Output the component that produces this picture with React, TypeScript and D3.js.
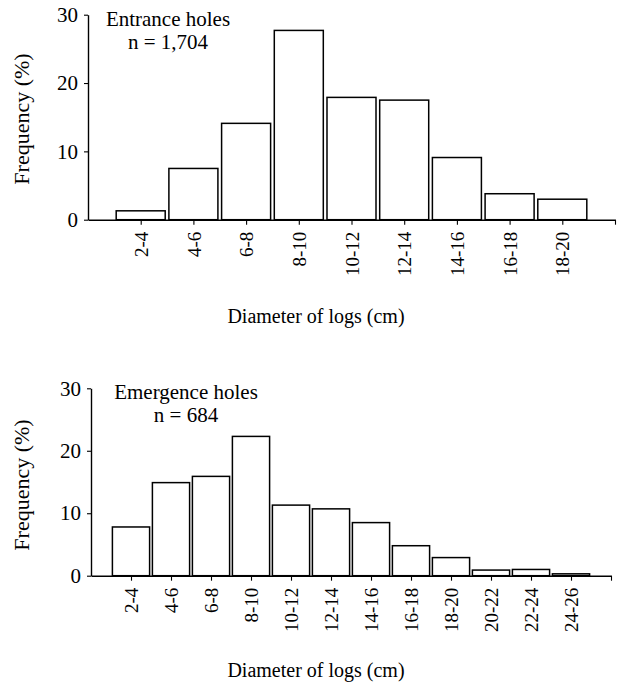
import * as d3 from "d3";
import { useRef, useEffect } from "react";

const entranceClasses = ["2-4", "4-6", "6-8", "8-10", "10-12", "12-14", "14-16", "16-18", "18-20"];
const entranceValues = [1.3, 7.5, 14.1, 27.7, 17.9, 17.5, 9.1, 3.8, 3.0];

const emergenceClasses = ["2-4", "4-6", "6-8", "8-10", "10-12", "12-14", "14-16", "16-18", "18-20", "20-22", "22-24", "24-26"];
const emergenceValues = [7.8, 14.9, 15.9, 22.3, 11.3, 10.7, 8.5, 4.8, 2.9, 0.9, 1.0, 0.3];

const yTicks = [0, 10, 20, 30];

const font = "'Liberation Serif', 'Times New Roman', serif";

interface PanelProps {
  classes: string[];
  values: number[];
  title: string;
  n: string;
  left: number;
  right: number;
  top: number;
  bottom: number;
  titleX: number;
  yLabelY: number;
  xTitleY: number;
}

const Panel = ({ classes, values, title, n, left, right, top, bottom, titleX, yLabelY, xTitleY }: PanelProps) => {
  const gx = useRef<SVGGElement>(null);
  const gy = useRef<SVGGElement>(null);

  const x = d3.scaleLinear().domain([0, classes.length + 1]).range([left, right]);
  const y = d3.scaleLinear().domain([0, 30]).range([bottom, top]);
  const step = x(1) - x(0);
  const barW = step * 0.93;

  useEffect(() => {
    const tickVals = d3.range(1, classes.length + 2);
    const gxs = d3.select(gx.current!);
    gxs
      .call(
        d3
          .axisBottom(x)
          .tickValues(tickVals)
          .tickSize(5)
          .tickSizeOuter(0)
          .tickFormat((d) => classes[(d as number) - 1] ?? "")
      )
      .call((g) => g.select(".domain").attr("stroke-width", 1.4))
      .call((g) => g.selectAll(".tick line").attr("stroke-width", 1.1))
      .call((g) =>
        g
          .selectAll(".tick text")
          .attr("transform", "rotate(-90)")
          .attr("text-anchor", "end")
          .attr("x", -12)
          .attr("y", 0)
          .attr("dy", "0.35em")
          .attr("fill", "#000")
          .style("font-family", font)
          .style("font-size", "19px")
      );

    const gys = d3.select(gy.current!);
    gys
      .call(d3.axisLeft(y).tickValues(yTicks).tickSize(4).tickSizeOuter(0))
      .call((g) => g.select(".domain").attr("stroke-width", 1.4))
      .call((g) => g.selectAll(".tick line").attr("stroke-width", 1.1))
      .call((g) =>
        g
          .selectAll(".tick text")
          .attr("x", -10)
          .attr("fill", "#000")
          .style("font-family", font)
          .style("font-size", "21px")
      );

    return () => {
      gxs.selectAll("*").remove();
      gys.selectAll("*").remove();
    };
  }, []);

  return (
    <g>
      {values.map((v, i) => (
        <rect
          key={i}
          x={x(i + 1) - barW / 2}
          y={y(v)}
          width={barW}
          height={y(0) - y(v)}
          fill="#fff"
          stroke="#000"
          strokeWidth={1.5}
        />
      ))}
      <g ref={gx} transform={`translate(0, ${bottom})`} />
      <g ref={gy} transform={`translate(${left}, 0)`} />
      <text x={titleX} y={top + 11} textAnchor="middle" fontFamily={font} fontSize={21}>
        {title}
      </text>
      <text x={titleX} y={top + 34} textAnchor="middle" fontFamily={font} fontSize={21}>
        {n}
      </text>
      <text
        transform={`translate(29, ${yLabelY}) rotate(-90)`}
        textAnchor="middle"
        fontFamily={font}
        fontSize={22}
      >
        Frequency (%)
      </text>
      <text x={316} y={xTitleY} textAnchor="middle" fontFamily={font} fontSize={20}>
        Diameter of logs (cm)
      </text>
    </g>
  );
};

const App = () => {
  return (
    <svg
      width={617}
      height={686}
      viewBox="0 0 617 686"
      style={{ position: "absolute", left: 0, top: 0, background: "#fff" }}
    >
      <Panel
        classes={entranceClasses}
        values={entranceValues}
        title="Entrance holes"
        n="n = 1,704"
        left={88}
        right={615}
        top={14.7}
        bottom={219.7}
        titleX={168}
        yLabelY={119}
        xTitleY={323}
      />
      <Panel
        classes={emergenceClasses}
        values={emergenceValues}
        title="Emergence holes"
        n="n = 684"
        left={91}
        right={611}
        top={388.3}
        bottom={575.7}
        titleX={186}
        yLabelY={485}
        xTitleY={677}
      />
    </svg>
  );
};

export default App;
